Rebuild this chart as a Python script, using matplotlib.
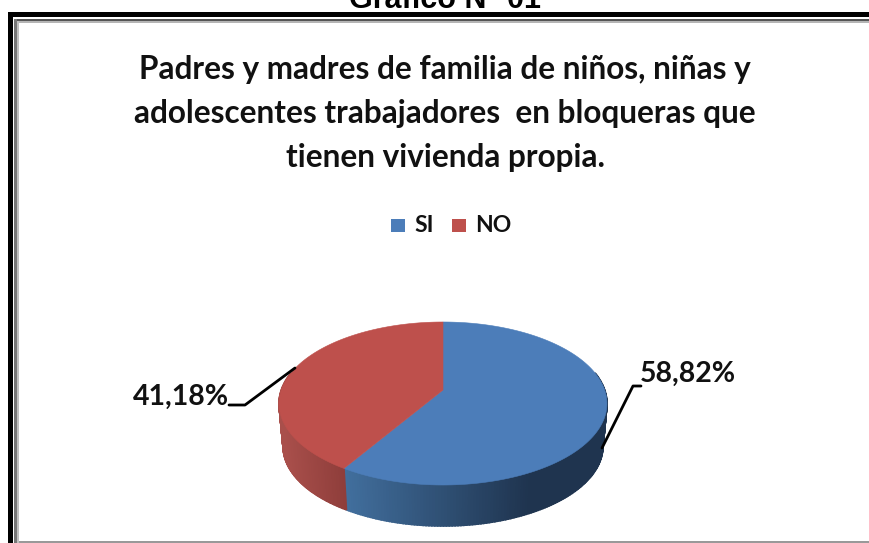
import numpy as np
from matplotlib import pyplot as plt
from matplotlib.patches import Polygon, Rectangle

labels = ["SI", "NO"]
values = [58.82, 41.18]
value_labels = ["58,82%", "41,18%"]
colors = ["#4C7DB9", "#BE504C"]
side_left = ["#42709F", "#A94F4B"]
side_right = ["#1F344F", "#8F3E3B"]

title_lines = ["Padres y madres de familia de niños, niñas y",
               "adolescentes trabajadores  en bloqueras que",
               "tienen vivienda propia."]
header = "Gráfico N° 01"

# pie geometry in pixels (perspective disc)
cx, cy = 443, 403.5
p = 0.1656
a = 79.27
b = 13.5
c = 161.7
shrink = 0.975
drop = 43


def disc(theta):
    u = np.cos(theta)
    v = np.sin(theta)
    w = 1 + p*v
    return c*u/w, a*v/w + b


def hex_rgb(h):
    return np.array([int(h[i:i+2], 16)/255 for i in (1, 3, 5)])


fig = plt.figure(figsize=(8.69, 5.43), dpi=100)
ax = fig.add_axes([0, 0, 1, 1])
ax.set_xlim(0, 869)
ax.set_ylim(543, 0)
ax.axis("off")

# frame
ax.add_patch(Rectangle((8, 12), 861, 5, color="black", lw=0))
ax.add_patch(Rectangle((8, 12), 5, 531, color="black", lw=0))
ax.add_patch(Rectangle((14, 19), 855, 2, color="#555555", lw=0))
ax.add_patch(Rectangle((14, 21), 855, 2, color="#b5b5b5", lw=0))
ax.add_patch(Rectangle((14, 19), 3, 524, color="#777777", lw=0))
ax.add_patch(Rectangle((17, 21), 2, 522, color="#c0c0c0", lw=0))
ax.add_patch(Rectangle((19, 541), 850, 2, color="#999999", lw=0))

ax.text(445, 8, header, family="Liberation Sans", weight="bold", fontsize=22,
        ha="center", va="baseline")

for line, y in zip(title_lines, [70, 113, 158]):
    ax.text(445, y, line, family="Lato", weight="bold", fontsize=22.7,
            ha="center", va="center", color="#111111")

# angles: starts at the top, SI goes clockwise
fractions = np.array(values)/np.sum(values)
edges = np.pi/2 - 2*np.pi*np.concatenate(([0], np.cumsum(fractions)))

# side wall
for i in range(len(values)):
    th = np.linspace(edges[i], edges[i+1], 240)
    X, Y = disc(th)
    lo, hi = (342, 530) if i == 0 else (283, 344)
    for j in range(len(th)-1):
        if Y[j] > 30 and Y[j+1] > 30:
            continue
        t = np.clip((cx + X[j] - lo)/(hi - lo), 0, 1)
        col = hex_rgb(side_left[i])*(1-t) + hex_rgb(side_right[i])*t
        pts = [(cx + X[j], cy - Y[j]), (cx + X[j+1], cy - Y[j+1]),
               (cx + X[j+1]*shrink, cy - Y[j+1]*shrink + drop),
               (cx + X[j]*shrink, cy - Y[j]*shrink + drop)]
        ax.add_patch(Polygon(pts, closed=True, facecolor=col, edgecolor=col, lw=1.2))

# top face
for i in range(len(values)):
    th = np.linspace(edges[i], edges[i+1], 300)
    X, Y = disc(th)
    pts = np.column_stack((cx + X, cy - Y))
    pts = np.vstack(([cx, cy - b], pts))
    ax.add_patch(Polygon(pts, closed=True, facecolor=colors[i], edgecolor=colors[i], lw=0.4))

# leader lines and value labels
ax.plot([602, 633, 641], [448, 386, 386], color="black", lw=2, solid_capstyle="round")
ax.plot([295, 245, 229], [368, 405, 405], color="black", lw=2, solid_capstyle="round")
ax.text(688, 374, value_labels[0], family="Lato", weight="bold", fontsize=20.5,
        ha="center", va="center", color="#111111")
ax.text(181, 397, value_labels[1], family="Lato", weight="bold", fontsize=20.5,
        ha="center", va="center", color="#111111")

# legend
ax.add_patch(Rectangle((391, 219), 14, 13, color=colors[0], lw=0))
ax.text(414, 225, labels[0], family="Lato", weight="bold", fontsize=16.5,
        ha="left", va="center", color="#111111")
ax.add_patch(Rectangle((452, 219), 14, 13, color=colors[1], lw=0))
ax.text(475, 225, labels[1], family="Lato", weight="bold", fontsize=16.5,
        ha="left", va="center", color="#111111")

plt.savefig("out.png", dpi=100)
